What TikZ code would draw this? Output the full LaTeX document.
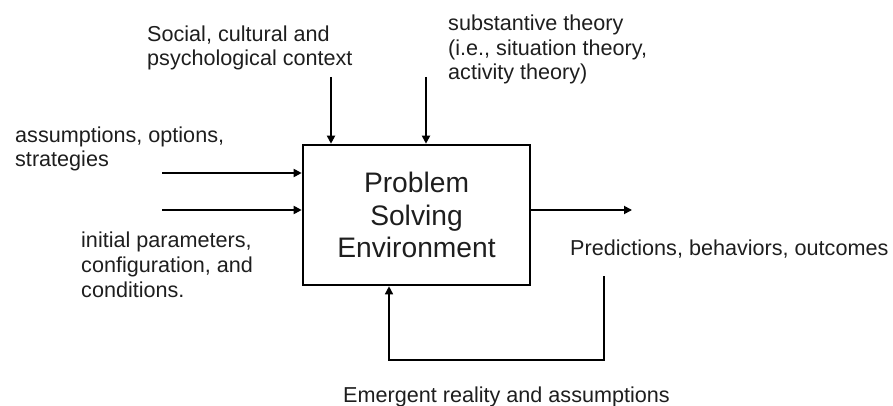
\documentclass[tikz,border=0pt]{standalone}
\usepackage{fontspec}
\setmainfont{Liberation Sans}
\usetikzlibrary{arrows.meta,calc}
\definecolor{txt}{HTML}{1E1E1E}
\tikzset{
  lbl/.style={anchor=base west, inner sep=0pt, align=left, text=txt,
    font=\fontsize{21.6}{24.6}\selectfont},
  conn/.style={line width=1.8pt, draw=black, -{Triangle[length=8pt,width=8pt]}},
  envbox/.style={draw=black, line width=2.6pt, minimum width=227pt,
    minimum height=140pt, inner sep=0pt, align=center, text=txt,
    font=\fontsize{28.2}{32.5}\selectfont}
}
\begin{document}
\begin{tikzpicture}[x=1pt,y=-1pt]
\useasboundingbox (0,0) rectangle (893,406);
% main box
\node[envbox] (env) at (416.5,215) {Problem\\Solving\\Environment};
% labels (base = baseline of the last line)
\node[lbl] (soc) at (147,66) {Social, cultural and\\psychological context};
\node[lbl] (sub) at (448,80) {substantive theory\\(i.e., situation theory,\\activity theory)};
\node[lbl] (ass) at (15,167) {assumptions, options,\\strategies};
\node[lbl] (ini) at (81,297) {initial parameters,\\configuration, and\\conditions.};
\node[lbl] (pred) at (570,255) {Predictions, behaviors, outcomes};
\node[lbl] (emer) at (343,402) {Emergent reality and assumptions};
% connector end points
\coordinate (t1) at (331,77);
\coordinate (t2) at (426,77);
\coordinate (l1) at (162,173);
\coordinate (l2) at (162,210);
\coordinate (r1) at (632,210);
\coordinate (f0) at (604,276);
\coordinate (fc) at (389,360);
% connectors
\draw[conn] (t1) -- (t1 |- env.north);
\draw[conn] (t2) -- (t2 |- env.north);
\draw[conn] (l1) -- (l1 -| env.west);
\draw[conn] (l2) -- (l2 -| env.west);
\draw[conn] (r1 -| env.east) -- (r1);
\draw[conn, line width=1.4pt] (f0) |- (fc) -- (fc |- env.south);
\end{tikzpicture}
\end{document}
